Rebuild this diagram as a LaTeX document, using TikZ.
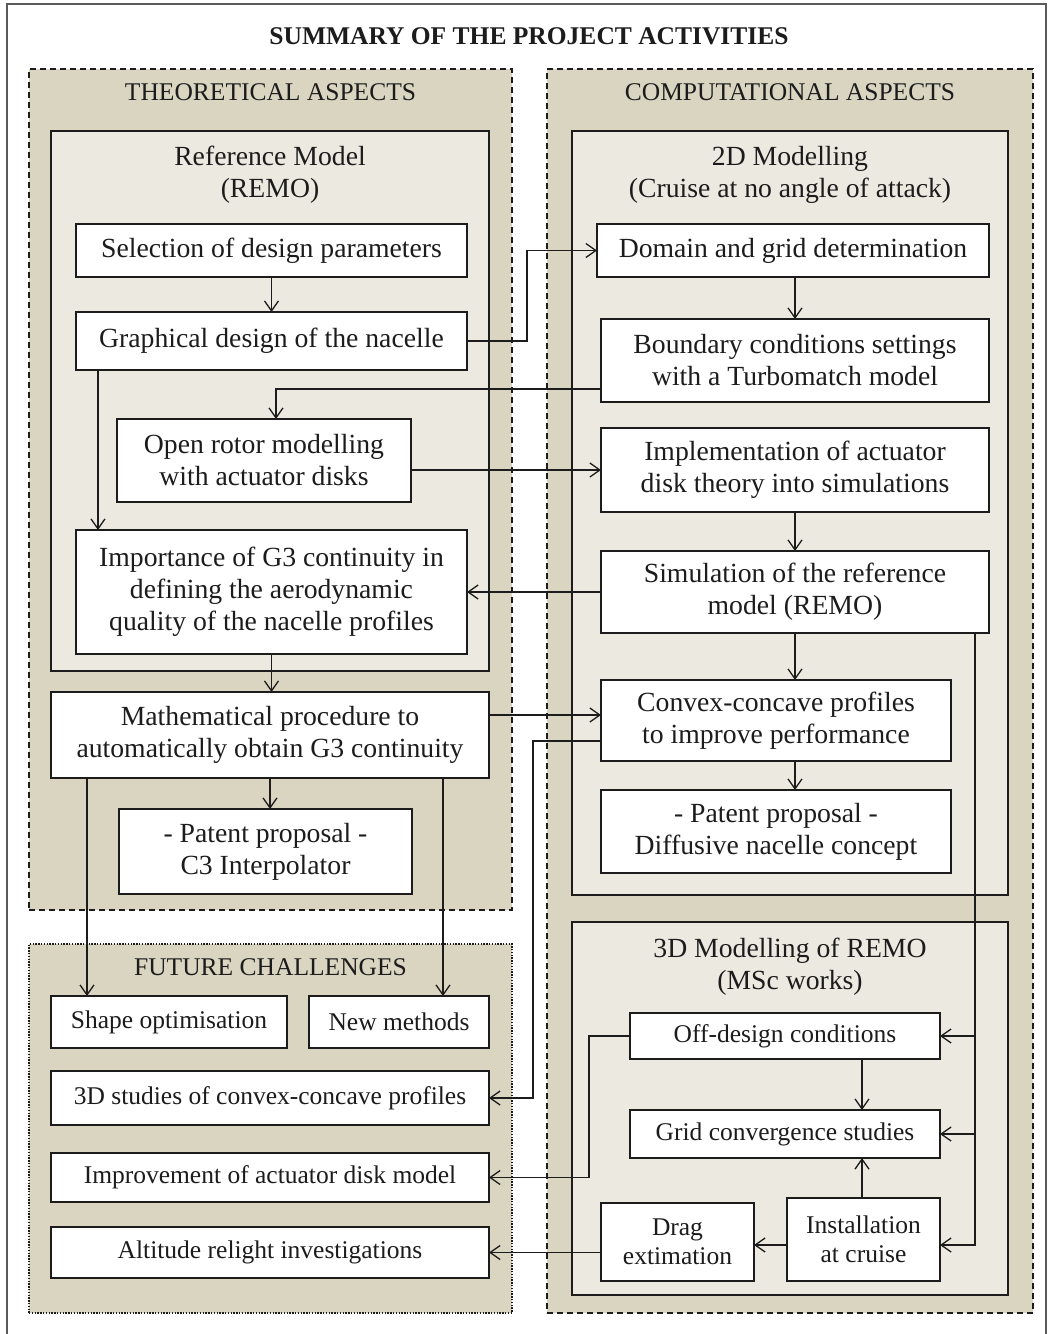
\documentclass[tikz,border=0pt]{standalone}
\usepackage{fontspec}
\setmainfont{Liberation Serif}
\usetikzlibrary{arrows.meta}

\definecolor{panelouter}{RGB}{217,213,193}
\definecolor{panelinner}{RGB}{236,234,224}
\definecolor{ink}{RGB}{28,28,28}
\definecolor{frame}{RGB}{90,90,90}

\newcommand\bigtxt{\fontsize{27.7pt}{32pt}\selectfont}
\newcommand\smalltxt{\fontsize{25.5pt}{29.3pt}\selectfont}

% rectangle node given by its corners: style, name, x1, y1, x2, y2, text
\newcommand\cornerbox[7]{%
  \node[#1, minimum width={(#5)-(#3)}, minimum height={(#6)-(#4)}]
    (#2) at ({((#3)+(#5))/2},{((#4)+(#6))/2}) {#7};}

\begin{document}
\begin{tikzpicture}[x=1pt,y=-1pt,
  every node/.style={inner sep=0pt, outer sep=0pt, text=ink},
  groupdash/.style={draw=ink, fill=panelouter, line width=1.5pt, dash pattern=on 6pt off 4pt},
  groupdot/.style={draw=ink, fill=panelouter, line width=1.2pt, dash pattern=on 1.4pt off 1.4pt},
  subpanel/.style={draw=ink, fill=panelinner, line width=1.5pt},
  wbox/.style={draw=ink, fill=white, line width=1.6pt, align=center, font=\bigtxt},
  sbox/.style={draw=ink, fill=white, line width=1.6pt, align=center, font=\smalltxt},
  heading/.style={align=center, font=\bigtxt},
  grouptitle/.style={font=\smalltxt},
  arr/.style={draw=ink, line width=1.3pt, -{Straight Barb[length=10pt,width=14pt,line width=1.3pt]}},
  link/.style={draw=ink, line width=1.3pt}
]
\useasboundingbox (0,0) rectangle (1049,1334);
\fill[white] (0,0) rectangle (1049,1334);

% outer frame
\draw[frame, line width=2pt] (7,1345) -- (7,4) -- (1046,4) -- (1046,1345);
\node[font=\smalltxt\bfseries] (title) at (529,36) {SUMMARY OF THE PROJECT ACTIVITIES};

% groups
\cornerbox{groupdash}{theo}{29}{69}{512}{910}{}
\cornerbox{groupdash}{comp}{547}{69}{1033}{1313}{}
\cornerbox{groupdot}{fut}{29}{944}{512}{1313}{}
\node[grouptitle] (theoT) at (270.5,92) {THEORETICAL ASPECTS};
\node[grouptitle] (compT) at (790,92) {COMPUTATIONAL ASPECTS};
\node[grouptitle] (futT) at (270.5,967) {FUTURE CHALLENGES};

% sub-panels
\cornerbox{subpanel}{remo}{51}{131}{489}{671}{}
\cornerbox{subpanel}{twod}{572}{131}{1008}{895}{}
\cornerbox{subpanel}{threed}{572}{922}{1008}{1295}{}
\node[heading] (remoT) at (270,175) {Reference Model\\(REMO)};
\node[heading] (twodT) at (790,175) {2D Modelling\\(Cruise at no angle of attack)};
\node[heading] (threedT) at (790,967) {3D Modelling of REMO\\(MSc works)};

% theoretical column
\cornerbox{wbox}{sel}{76}{224}{467}{277}{Selection of design parameters}
\cornerbox{wbox}{gra}{76}{312}{467}{370}{Graphical design of the nacelle}
\cornerbox{wbox}{orm}{117}{419}{411}{502}{Open rotor modelling\\with actuator disks}
\cornerbox{wbox}{imp}{76}{530}{467}{654}{Importance of G3 continuity in\\defining the aerodynamic\\quality of the nacelle profiles}
\cornerbox{wbox}{mth}{51}{692}{489}{778}{Mathematical procedure to\\automatically obtain G3 continuity}
\cornerbox{wbox}{pc3}{119}{809}{412}{894}{- Patent proposal -\\C3 Interpolator}

% computational column, 2D
\cornerbox{wbox}{dom}{597}{224}{989}{277}{Domain and grid determination}
\cornerbox{wbox}{bnd}{601}{319}{989}{402}{Boundary conditions settings\\with a Turbomatch model}
\cornerbox{wbox}{ipl}{601}{428}{989}{512}{Implementation of actuator\\disk theory into simulations}
\cornerbox{wbox}{sim}{601}{551}{989}{633}{Simulation of the reference\\model (REMO)}
\cornerbox{wbox}{cvx}{601}{680}{951}{761}{Convex-concave profiles\\to improve performance}
\cornerbox{wbox}{pdf}{601}{790}{951}{873}{- Patent proposal -\\Diffusive nacelle concept}

% computational column, 3D
\cornerbox{sbox}{off}{630}{1013}{940}{1059}{Off-design conditions}
\cornerbox{sbox}{grd}{630}{1110}{940}{1158}{Grid convergence studies}
\cornerbox{sbox}{drg}{601}{1203}{754}{1281}{Drag\\extimation}
\cornerbox{sbox}{ins}{787}{1198}{940}{1281}{Installation\\at cruise}

% future challenges
\cornerbox{sbox}{shp}{51}{996}{287}{1048}{Shape optimisation}
\cornerbox{sbox}{nwm}{309}{996}{489}{1048}{New methods}
\cornerbox{sbox}{s3d}{51}{1071}{489}{1125}{3D studies of convex-concave profiles}
\cornerbox{sbox}{imv}{51}{1153}{489}{1202}{Improvement of actuator disk model}
\cornerbox{sbox}{alt}{51}{1227}{489}{1278}{Altitude relight investigations}

% connectors, theoretical side
\draw[arr] (sel) -- (gra);
\draw[arr] (gra.east) -- ++(60,0) |- (dom.west);
\draw[arr] (bnd.west |- 0,389) -| (276,0 |- orm.north);
\draw[arr] (98,0 |- gra.south) -- (98,0 |- imp.north);
\draw[arr] (orm.east |- ipl.west) -- (ipl.west);
\draw[arr] (sim.west) -- (imp.east |- sim.west);
\draw[arr] (imp.south) -- (imp.south |- mth.north);
\draw[arr] (mth.south) -- (mth.south |- pc3.north);
\draw[arr] (mth.east |- 0,715) -- (cvx.west |- 0,715);
\draw[arr] (87,0 |- mth.south) -- (87,0 |- shp.north);
\draw[arr] (443,0 |- mth.south) -- (443,0 |- nwm.north);

% connectors, 2D modelling
\draw[arr] (795,0 |- dom.south) -- (795,0 |- bnd.north);
\draw[arr] (795,0 |- ipl.south) -- (795,0 |- sim.north);
\draw[arr] (795,0 |- sim.south) -- (795,0 |- cvx.north);
\draw[arr] (795,0 |- cvx.south) -- (795,0 |- pdf.north);
\draw[arr] (cvx.west |- 0,741) -- (533,741) |- (s3d.east);

% connectors, 3D modelling
\draw[arr] (975,0 |- sim.south) |- (ins.east |- 0,1245);
\draw[arr] (975,0 |- off.east) -- (off.east);
\draw[arr] (975,0 |- grd.east) -- (grd.east);
\draw[arr] (862,0 |- off.south) -- (862,0 |- grd.north);
\draw[arr] (862,0 |- ins.north) -- (862,0 |- grd.south);
\draw[arr] (ins.west |- 0,1245) -- (drg.east |- 0,1245);
\draw[arr] (off.west) -- (589,0 |- off.west) |- (imv.east);
\draw[arr] (drg.west |- alt.east) -- (alt.east);
\end{tikzpicture}
\end{document}
